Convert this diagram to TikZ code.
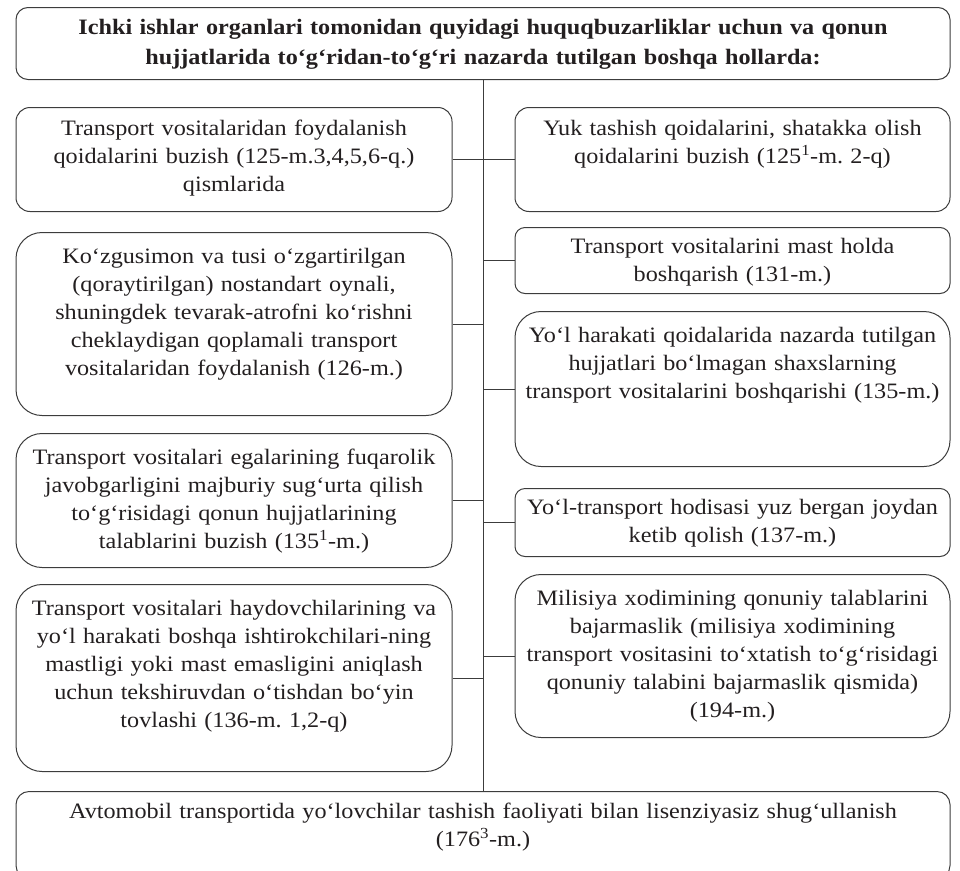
\documentclass[tikz,border=0pt]{standalone}
\usepackage{fontspec}
\setmainfont{Liberation Serif}[FakeStretch=1.1]
\usepackage{tikz}
\usetikzlibrary{positioning}
\frenchspacing

\definecolor{inkgray}{HTML}{231F20}
\definecolor{linegray}{HTML}{3C3C3C}

\begin{document}
\begin{tikzpicture}[
    x=1pt, y=-1pt,
    item/.style={rectangle, draw=linegray, line width=1pt, rounded corners=14pt, align=center,
        text=inkgray, inner xsep=5pt, inner ysep=6pt, anchor=north, text height=22pt,
        font=\fontsize{22}{28}\selectfont},
    tallitem/.style={item, rounded corners=26pt, text height=25pt},
    slimitem/.style={item, rounded corners=10pt, text height=20pt},
    headitem/.style={item, rounded corners=12pt, text height=21pt, font=\bfseries\fontsize{22}{30}\selectfont},
    link/.style={draw=linegray, line width=1pt}
]
\useasboundingbox (0,0) rectangle (960,870);

\node[headitem, text width=924pt, text depth=39pt] (top) at (483,7) {Ichki ishlar organlari tomonidan quyidagi huquqbuzarliklar uchun va qonun\\hujjatlarida to‘g‘ridan-to‘g‘ri nazarda tutilgan boshqa hollarda:};

% left column
\node[item, text width=426pt, text depth=70pt] (l1) at (234,107) {Transport vositalaridan foydalanish\\qoidalarini buzish (125-m.3,4,5,6-q.)\\qismlarida};
\node[tallitem, text width=426pt, text depth=146pt] (l2) at (234,232) {Ko‘zgusimon va tusi o‘zgartirilgan\\(qoraytirilgan) nostandart oynali,\\shuningdek tevarak-atrofni ko‘rishni\\cheklaydigan qoplamali transport\\vositalaridan foydalanish (126-m.)};
\node[tallitem, text width=426pt, text depth=97pt] (l3) at (234,433) {Transport vositalari egalarining fuqarolik\\javobgarligini majburiy sug‘urta qilish\\to‘g‘risidagi qonun hujjatlarining\\talablarini buzish (135\textsuperscript{1}-m.)};
\node[tallitem, text width=426pt, text depth=150pt] (l4) at (234,584) {Transport vositalari haydovchilarining va\\yo‘l harakati boshqa ishtirokchilari-ning\\mastligi yoki mast emasligini aniqlash\\uchun tekshiruvdan o‘tishdan bo‘yin\\tovlashi (136-m. 1,2-q)};

% right column
\node[item, text width=425pt, text depth=70pt] (r1) at (732.5,107) {Yuk tashish qoidalarini, shatakka olish\\qoidalarini buzish (125\textsuperscript{1}-m. 2-q)};
\node[slimitem, text width=425pt, text depth=34pt] (r2) at (732.5,227) {Transport vositalarini mast holda\\boshqarish (131-m.)};
\node[tallitem, text width=425pt, text depth=118pt] (r3) at (732.5,311) {Yo‘l harakati qoidalarida nazarda tutilgan\\hujjatlari bo‘lmagan shaxslarning\\transport vositalarini boshqarishi (135-m.)};
\node[slimitem, text width=425pt, text depth=36pt] (r4) at (732.5,488) {Yo‘l-transport hodisasi yuz bergan joydan\\ketib qolish (137-m.)};
\node[tallitem, text width=425pt, text depth=126pt] (r5) at (732.5,574) {Milisiya xodimining qonuniy talablarini\\bajarmaslik (milisiya xodimining\\transport vositasini to‘xtatish to‘g‘risidagi\\qonuniy talabini bajarmaslik qismida)\\(194-m.)};

\node[item, rounded corners=13pt, text width=924pt, text depth=54pt, text height=21pt] (bottom) at (483,791) {Avtomobil transportida yo‘lovchilar tashish faoliyati bilan lisenziyasiz shug‘ullanish\\(176\textsuperscript{3}-m.)};

% spine and branches
\draw[link] (top.south) -- (bottom.north);
\foreach \n in {l1,l2,l3,l4}
    \draw[link] (\n.east) -- (\n.east -| top.south);
\foreach \n in {r1,r2,r3,r4,r5}
    \draw[link] (\n.west) -- (\n.west -| top.south);
\end{tikzpicture}
\end{document}
